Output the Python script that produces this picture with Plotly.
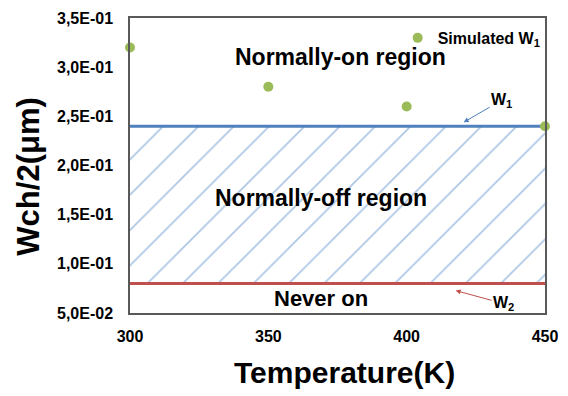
import plotly.graph_objects as go

# Data
temperature = [300, 350, 400, 450]
simulated_w1 = [0.32, 0.28, 0.26, 0.24]
w1_level = [0.24, 0.24]
w2_level = [0.08, 0.08]
x_range = [300, 450]
y_tickvals = [0.05, 0.10, 0.15, 0.20, 0.25, 0.30, 0.35]
y_ticktext = ["5,0E-02", "1,0E-01", "1,5E-01", "2,0E-01", "2,5E-01", "3,0E-01", "3,5E-01"]
x_tickvals = [300, 350, 400, 450]
x_ticktext = ["300", "350", "400", "450"]

FONT = "Liberation Sans, Arial, sans-serif"
BLUE = "#4F81BD"
RED = "#C0504D"
GREEN = "#9BBB59"

fig = go.Figure()

# W2 line (lower bound)
fig.add_trace(go.Scatter(
    x=x_range, y=w2_level, mode="lines",
    line=dict(color=RED, width=3), showlegend=False, hoverinfo="skip",
))
# W1 line (upper bound) with hatched fill down to W2
fig.add_trace(go.Scatter(
    x=x_range, y=w1_level, mode="lines",
    line=dict(color=BLUE, width=3), showlegend=False, hoverinfo="skip",
    fill="tonexty", fillcolor="rgba(0,0,0,0)",
    fillpattern=dict(shape="/", size=25, solidity=0.07,
                     fgcolor="#5B8DCB", bgcolor="rgba(0,0,0,0)"),
))
# Simulated W1 points
fig.add_trace(go.Scatter(
    x=temperature, y=simulated_w1, mode="markers",
    marker=dict(color=GREEN, size=10),
    name="<b>Simulated W<sub>1</sub></b>", cliponaxis=False,
))

ann_font = dict(family=FONT, size=23, color="black")
fig.add_annotation(x=376, y=0.310, text="<b>Normally-on region</b>", showarrow=False, font=ann_font)
fig.add_annotation(x=369, y=0.167, text="<b>Normally-off region</b>", showarrow=False, font=ann_font)
fig.add_annotation(x=369, y=0.065, text="<b>Never on</b>", showarrow=False,
                   font=dict(family=FONT, size=22, color="black"))

fig.add_annotation(x=420.6, y=0.244, text="<b>W<sub>1</sub></b>", showarrow=True,
                   ax=38, ay=-22, arrowcolor=BLUE, arrowwidth=1, arrowhead=2, arrowsize=1,
                   font=dict(family=FONT, size=16, color="black"))
fig.add_annotation(x=417.7, y=0.0728, text="<b>W<sub>2</sub></b>", showarrow=True,
                   ax=48, ay=13, arrowcolor=RED, arrowwidth=1, arrowhead=2, arrowsize=1,
                   font=dict(family=FONT, size=16, color="black"))

# Axis titles
fig.add_annotation(xref="paper", yref="paper", x=-0.2435, y=0.462,
                   xanchor="center", yanchor="middle",
                   text="<b>Wch/2(μm)</b>", textangle=-90, showarrow=False,
                   font=dict(family=FONT, size=31, color="black"))
fig.add_annotation(xref="paper", yref="paper", x=0.5165, y=-0.2013,
                   xanchor="center", yanchor="middle",
                   text="<b>Temperature(K)</b>", showarrow=False,
                   font=dict(family=FONT, size=30, color="black"))

fig.update_layout(
    width=568, height=396,
    margin=dict(l=130, r=15, t=10, b=83),
    plot_bgcolor="white", paper_bgcolor="white",
    font=dict(family=FONT, color="black"),
    showlegend=True,
    legend=dict(x=0.645, y=0.99, xanchor="left", yanchor="top",
                bgcolor="rgba(0,0,0,0)",
                font=dict(family=FONT, size=16, color="black"),
                itemwidth=30),
    xaxis=dict(
        range=x_range, tickvals=x_tickvals, ticktext=["<b>%s</b>" % t for t in x_ticktext],
        showgrid=False, zeroline=False,
        showline=True, linecolor="#595959", linewidth=1.5, mirror=True,
        ticks="", ticklabelstandoff=8,
        tickfont=dict(family=FONT, size=16, color="black"),
    ),
    yaxis=dict(
        range=[0.05, 0.35], tickvals=y_tickvals, ticktext=["<b>%s</b>" % t for t in y_ticktext],
        showgrid=False, zeroline=False,
        showline=True, linecolor="#595959", linewidth=1.5, mirror=True,
        ticks="", ticklabelstandoff=12,
        tickfont=dict(family=FONT, size=16, color="black"),
    ),
)

fig.write_html("out.html")
